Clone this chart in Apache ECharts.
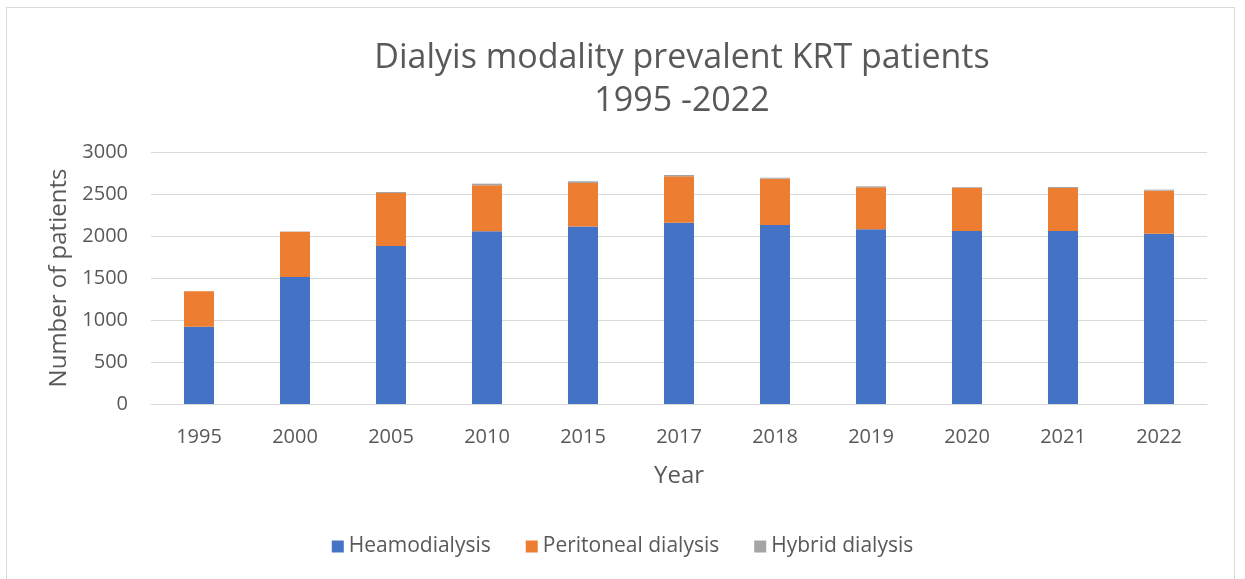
<!DOCTYPE html>
<html>
<head>
<meta charset="utf-8">
<script src="https://cdn.jsdelivr.net/npm/echarts@6/dist/echarts.min.js"></script>
<style>
  html, body { margin: 0; padding: 0; background: #fff; }
  #frame { position: absolute; left: 6px; top: 7px; width: 1229px; height: 600px; border: 1px solid #d9d9d9; box-sizing: border-box; }
  #chart { position: absolute; left: 0; top: 0; width: 1245px; height: 579px; }
</style>
</head>
<body>
<div id="frame"></div>
<div id="chart"></div>
<script>
  // data
  var years = ['1995', '2000', '2005', '2010', '2015', '2017', '2018', '2019', '2020', '2021', '2022'];
  var haemo = [919, 1513, 1882, 2056, 2112, 2159, 2132, 2080, 2060, 2060, 2028];
  var peritoneal = [424, 539, 630, 547, 519, 551, 550, 499, 515, 511, 512];
  var hybrid = [0, 3, 12, 20, 20, 16, 12, 12, 8, 12, 12];
  var yTicks = [0, 500, 1000, 1500, 2000, 2500, 3000];

  var textCol = '#595959';
  var font = '"Open Sans", "Liberation Sans", sans-serif';

  var myChart = echarts.init(document.getElementById('chart'));
  myChart.setOption({
    animation: false,
    textStyle: { fontFamily: font },
    title: {
      text: 'Dialyis modality prevalent KRT patients\n1995 -2022',
      left: 677,
      textAlign: 'center',
      top: 32,
      textStyle: { color: textCol, fontSize: 34, fontWeight: 'normal', lineHeight: 43, fontFamily: font }
    },
    legend: {
      bottom: 17,
      left: 'center',
      itemWidth: 12,
      itemHeight: 12,
      itemGap: 35,
      icon: 'rect',
      textStyle: { color: textCol, fontSize: 21, fontFamily: font },
      data: ['Heamodialysis', 'Peritoneal dialysis', 'Hybrid dialysis']
    },
    grid: { left: 151, right: 38, top: 152, bottom: 175 },
    xAxis: {
      type: 'category',
      data: years,
      name: 'Year',
      nameLocation: 'middle',
      nameGap: 60,
      nameTextStyle: { color: textCol, fontSize: 24 },
      axisLine: { lineStyle: { color: '#d9d9d9', width: 1 } },
      axisTick: { show: false },
      axisLabel: { color: textCol, fontSize: 20, margin: 23 }
    },
    yAxis: {
      type: 'value',
      min: yTicks[0],
      max: yTicks[yTicks.length - 1],
      interval: 500,
      name: 'Number of patients',
      nameLocation: 'middle',
      nameGap: 78,
      nameTextStyle: { color: textCol, fontSize: 24 },
      axisLine: { show: false },
      axisTick: { show: false },
      axisLabel: { color: textCol, fontSize: 20, margin: 23, formatter: function (v) { return String(v); } },
      splitLine: { lineStyle: { color: '#d9d9d9', width: 1 } }
    },
    series: [
      { name: 'Heamodialysis', type: 'bar', stack: 'total', data: haemo, barWidth: 30,
        itemStyle: { color: '#4472c4' } },
      { name: 'Peritoneal dialysis', type: 'bar', stack: 'total', data: peritoneal, barWidth: 30,
        itemStyle: { color: '#ed7d31' } },
      { name: 'Hybrid dialysis', type: 'bar', stack: 'total', data: hybrid, barWidth: 30,
        itemStyle: { color: '#a5a5a5' } }
    ]
  });
</script>
</body>
</html>
